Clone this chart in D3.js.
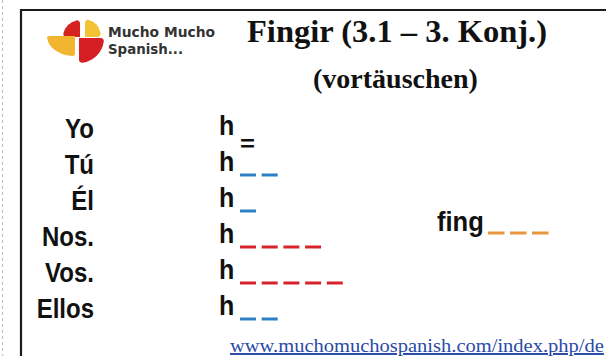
<!DOCTYPE html>
<html><head><meta charset="utf-8">
<script src="https://cdn.jsdelivr.net/npm/d3@7"></script>
<style>html,body{margin:0;padding:0;background:#fff;overflow:hidden}</style>
</head><body><svg id="c" width="606" height="356"></svg>
<script>
// ---- data ----
const pronouns = ["Yo","Tú","Él","Nos.","Vos.","Ellos"];
const stems = ["h","h","h","h","h","h"];
const blankCounts = [0,2,1,4,5,2];
const blankGroups = ["mark","singular","singular","plural","plural","singular"];
const refStem = "fing";
const refBlanks = 3;
const titleText = "Fingir (3.1 – 3. Konj.)";
const subtitleText = "(vortäuschen)";
const logoLines = ["Mucho Mucho","Spanish..."];
const urlText = "www.muchomuchospanish.com/index.php/de";

const svg = d3.select("#c");
const sans = "'Liberation Sans', Arial, sans-serif";
const serif = "'Liberation Serif', 'Times New Roman', serif";

// condense: draw at a taller size but keep width of a smaller size
function condense(sel, narrowSize, tallSize){
  sel.each(function(){
    const t = d3.select(this).attr("font-size", narrowSize);
    const w = this.getComputedTextLength();
    t.attr("font-size", tallSize).attr("textLength", w).attr("lengthAdjust","spacingAndGlyphs");
  });
}

// page edge + frame
svg.append("line").attr("x1",2.5).attr("x2",2.5).attr("y1",0).attr("y2",356)
  .attr("stroke","#c4c4c4").attr("stroke-width",1.2).attr("stroke-dasharray","3,3");
svg.append("path").attr("d","M21,360 V10 H610").attr("fill","none")
  .attr("stroke","#1a1a1a").attr("stroke-width",2.2);

// logo
const arc = d3.arc().innerRadius(0).cornerRadius(3);
const petals = [
  {s:-Math.PI/2, e:0, r:17, tx:80, ty:37, sy:1, c:"#d3241f"},
  {s:0, e:Math.PI/2, r:16, tx:85, ty:37, sy:1.1, c:"#f4c235"},
  {s:Math.PI, e:1.5*Math.PI, r:28, tx:75, ty:36, sy:0.72, c:"#f1b530"},
  {s:Math.PI/2, e:Math.PI, r:25, tx:79, ty:38, sy:1, c:"#d61e26"}
];
svg.append("g").selectAll("path").data(petals).join("path")
  .attr("transform",d=>`translate(${d.tx},${d.ty}) scale(1,${d.sy})`)
  .attr("d",d=>arc({startAngle:d.s,endAngle:d.e,outerRadius:d.r}))
  .attr("fill",d=>d.c);
svg.append("g").selectAll("text").data(logoLines).join("text")
  .attr("x",108).attr("y",(d,i)=>37+i*16.5)
  .attr("font-family","'DejaVu Sans', Verdana, sans-serif").attr("font-weight","bold")
  .attr("font-size",13.5).attr("fill","#333")
  .attr("textLength",(d,i)=>i===0?107:75).attr("lengthAdjust","spacingAndGlyphs")
  .text(d=>d);

// titles
svg.append("text").attr("x",247).attr("y",42).attr("font-family",serif)
  .attr("font-weight","bold").attr("font-size",32.5).attr("fill","#111").text(titleText);
svg.append("text").attr("x",313).attr("y",88).attr("font-family",serif)
  .attr("font-weight","bold").attr("font-size",28).attr("fill","#111").text(subtitleText);

// rows
const y = d3.scalePoint().domain(pronouns).range([138,318]);
const rows = pronouns.map((p,i)=>({p, stem:stems[i], n:blankCounts[i], g:blankGroups[i]}));
const color = d3.scaleOrdinal().domain(["mark","singular","plural","ref"])
  .range(["#111111","#2f80c3","#d8232a","#e9953f"]);
const bx = d3.scaleLinear().domain([0,1]).range([240,261.7]);

svg.append("g").selectAll("text").data(rows).join("text")
  .attr("x",94).attr("y",d=>y(d.p)).attr("text-anchor","end")
  .attr("font-family",sans).attr("font-weight","bold").attr("fill","#111")
  .text(d=>d.p).call(condense, 24, 27);
svg.append("g").selectAll("text").data(rows).join("text")
  .attr("x",219).attr("y",d=>y(d.p)-3)
  .attr("font-family",sans).attr("font-weight","bold").attr("fill","#111")
  .text(d=>d.stem).call(condense, 25, 28);

const blanks = rows.flatMap(r => d3.range(r.n).map(k => ({p:r.p, k, g:r.g})));
svg.append("g").selectAll("line").data(blanks).join("line")
  .attr("x1",d=>bx(d.k)).attr("x2",d=>bx(d.k)+16)
  .attr("y1",d=>y(d.p)+1).attr("y2",d=>y(d.p)+1)
  .attr("stroke",d=>color(d.g)).attr("stroke-width",3);

// mark row (=)
svg.append("g").selectAll("text").data(rows.filter(r=>r.g==="mark")).join("text")
  .attr("x",240).attr("y",d=>y(d.p)+13)
  .attr("font-family",sans).attr("font-weight","bold").attr("font-size",22).attr("fill",d=>color(d.g))
  .attr("textLength",15).attr("lengthAdjust","spacingAndGlyphs").text("=");

// reference stem
svg.append("text").attr("x",437).attr("y",231).attr("font-family",sans)
  .attr("font-weight","bold").attr("fill","#111").text(refStem).call(condense, 25.5, 28);
const rx = d3.scaleLinear().domain([0,1]).range([488,510]);
svg.append("g").selectAll("line").data(d3.range(refBlanks)).join("line")
  .attr("x1",d=>rx(d)).attr("x2",d=>rx(d)+16.5).attr("y1",233).attr("y2",233)
  .attr("stroke",color("ref")).attr("stroke-width",3);

// url
svg.append("text").attr("x",230).attr("y",352).attr("font-family",serif)
  .attr("fill","#2a4aa8").style("text-decoration","underline")
  .text(urlText).call(condense, 20.5, 19.5);
</script></body></html>
